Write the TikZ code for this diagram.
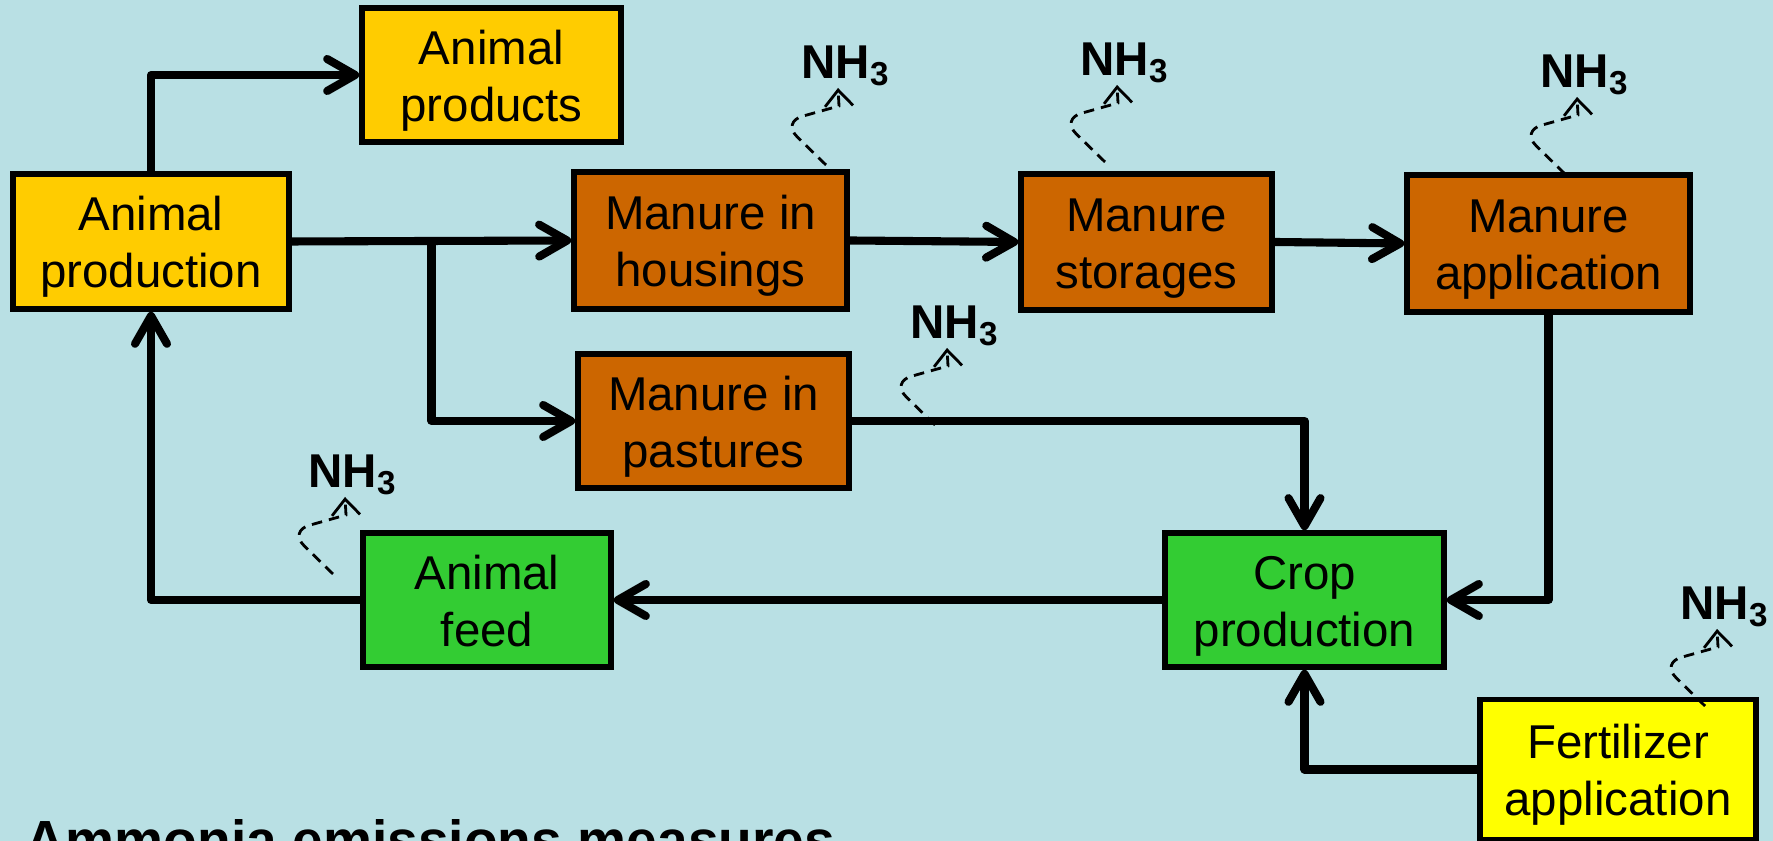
\documentclass[tikz,border=0pt]{standalone}
\usepackage{fontspec}
\setmainfont{Liberation Sans}
\usetikzlibrary{calc,arrows.meta}
\definecolor{bgblue}{RGB}{185,224,228}
\definecolor{prodyel}{RGB}{255,204,0}
\definecolor{manbrn}{RGB}{204,102,0}
\definecolor{cropgrn}{RGB}{51,204,51}
\definecolor{fertyel}{RGB}{255,255,0}
\newcommand\emis[1]{\draw[emis] ($(#1)+(-0.20,-0.99)$) [rounded corners=6pt] -- ($(#1)+(-0.64,-0.56)$) [sharp corners] -- ($(#1)+(-0.07,-0.40)$) -- ($(#1)+(-0.08,-0.22)$);}

\begin{document}
\begin{tikzpicture}[
	box/.style={draw=black, line width=1.6pt, minimum height=1.34cm, align=center, inner sep=0pt, text height=29.4pt, text depth=3pt, font=\fontsize{13.5}{16.2}\selectfont},
	flow/.style={line width=2.3pt, line join=round, -{Straight Barb[length=2.8mm,width=3.2mm,round]}},
	emis/.style={line width=0.8pt, dash pattern=on 3pt off 2pt, -{Straight Barb[length=1.6mm,width=2.8mm]}},
	nh/.style={inner sep=0pt, font=\fontsize{13.5}{16}\selectfont\bfseries}]
		%%%%% START %%%%%
		\useasboundingbox (0,0) rectangle (17.73,8.41);
		\fill[bgblue] (0,0) rectangle (17.73,8.41);
		
		\node[box, fill=prodyel, minimum width=2.59cm] (aprod) at (4.915,7.66) {Animal\\products};
		\node[box, fill=prodyel, minimum width=2.76cm, minimum height=1.35cm] (anim) at (1.51,5.995) {Animal\\production};
		\node[box, fill=manbrn, minimum width=2.73cm, minimum height=1.37cm] (mhous) at (7.105,6.005) {Manure in\\housings};
		\node[box, fill=manbrn, minimum width=2.51cm, minimum height=1.36cm] (mstor) at (11.465,5.99) {Manure\\storages};
		\node[box, fill=manbrn, minimum width=2.83cm, minimum height=1.37cm] (mappl) at (15.485,5.975) {Manure\\application};
		\node[box, fill=manbrn, minimum width=2.71cm] (mpast) at (7.135,4.20) {Manure in\\pastures};
		\node[box, fill=cropgrn, minimum width=2.48cm] (feed) at (4.87,2.41) {Animal\\feed};
		\node[box, fill=cropgrn, minimum width=2.79cm] (crop) at (13.045,2.41) {Crop\\production};
		\node[box, fill=fertyel, minimum width=2.76cm, minimum height=1.40cm] (fert) at (16.18,0.715) {Fertilizer\\application};
		
		\coordinate (split) at ($(anim.east)!0.5!(mhous.west)$);
		\draw[flow] (anim.north) |- (aprod.west);
		\draw[flow] (anim.east) -- (mhous.west);
		\draw[flow] (split) |- (mpast.west);
		\draw[flow] (mhous.east) -- (mstor.west);
		\draw[flow] (mstor.east) -- (mappl.west);
		\draw[flow] (mpast.east) -| (crop.north);
		\draw[flow] (mappl.south) |- (crop.east);
		\draw[flow] (crop.west) -- (feed.east);
		\draw[flow] (feed.west) -| (anim.south);
		\draw[flow] (fert.west) -| (crop.south);
		
		% ammonia losses
		\node[nh] (nh1) at (8.46,7.75) {NH\textsubscript{3}};
		\node[nh] (nh2) at (11.25,7.78) {NH\textsubscript{3}};
		\node[nh] (nh3) at (15.85,7.66) {NH\textsubscript{3}};
		\node[nh] (nh4) at (9.55,5.15) {NH\textsubscript{3}};
		\node[nh] (nh5) at (3.53,3.66) {NH\textsubscript{3}};
		\node[nh] (nh6) at (17.25,2.34) {NH\textsubscript{3}};
		\emis{nh1} \emis{nh2} \emis{nh3}
		\emis{nh4} \emis{nh5} \emis{nh6}
		
		\node[anchor=base west, inner sep=0pt, font=\fontsize{15.7}{18}\selectfont\bfseries] (title) at (0.25,-0.19) {Ammonia emissions measures};
		%%%%% END %%%%%
	\end{tikzpicture}
\end{document}
